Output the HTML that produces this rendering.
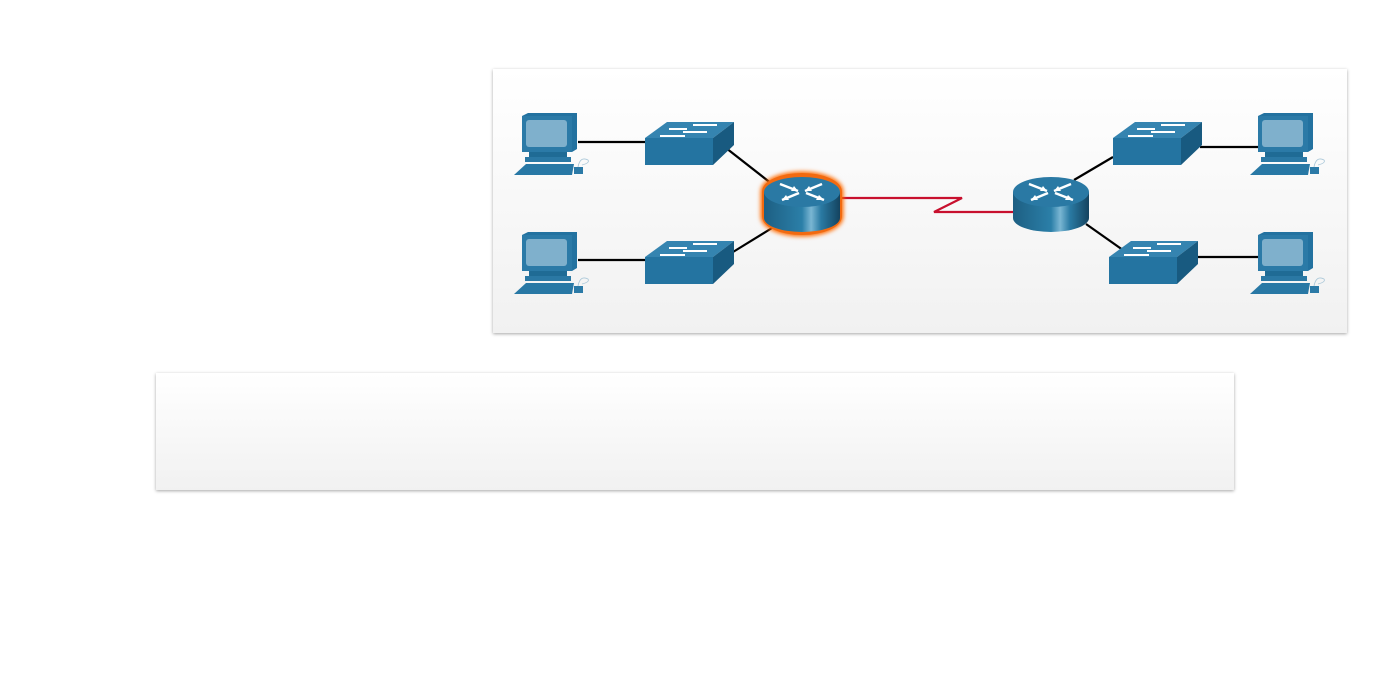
<!DOCTYPE html>
<html><head><meta charset="utf-8"><style>
html,body{margin:0;padding:0;background:#fff;width:1389px;height:681px;overflow:hidden}
</style></head><body>
<svg width="1389" height="681" xmlns="http://www.w3.org/2000/svg">
<defs>
<linearGradient id="pg" x1="0" y1="0" x2="0" y2="1"><stop offset="0" stop-color="#ffffff"/><stop offset="1" stop-color="#f1f1f1"/></linearGradient>
<linearGradient id="rb" x1="0" y1="0" x2="1" y2="0"><stop offset="0" stop-color="#1d5f83"/><stop offset="0.5" stop-color="#2b7fa8"/><stop offset="0.62" stop-color="#7ab6d3"/><stop offset="0.75" stop-color="#2a7aa3"/><stop offset="1" stop-color="#14435f"/></linearGradient>
<filter id="sh" x="-5%" y="-5%" width="110%" height="115%"><feDropShadow dx="0" dy="1" stdDeviation="1.5" flood-color="#000" flood-opacity="0.35"/></filter>
<filter id="gl" x="-30%" y="-30%" width="160%" height="160%"><feGaussianBlur stdDeviation="2"/></filter>
<g id="pc">
<path d="M0,3 L6,0 L55,0 L55,36 L50,39 L0,39Z" fill="#2372a0"/>
<rect x="0" y="3" width="50" height="36" fill="#2b7aa7"/>
<rect x="4" y="7" width="41" height="27" rx="3" fill="#7fb0cc"/>
<rect x="7" y="39" width="38" height="5" fill="#1f6b95"/>
<rect x="3" y="44" width="46" height="5" fill="#2a78a4"/>
<path d="M4,51 L52,51 L50,62 L-8,62Z" fill="#2878a5"/>
<rect x="52" y="54" width="9" height="7" fill="#2b7aa7"/>
<path d="M56,54 Q58,43 66,47 Q68,50 60,52" fill="none" stroke="#a9c7d8" stroke-width="0.8"/>
</g>
<g id="sw">
<path d="M0,16 L22,0 L89,0 L68,16Z" fill="#3584b0"/>
<path d="M68,16 L89,0 L89,23 L68,43Z" fill="#185a80"/>
<rect x="0" y="16" width="68" height="27" fill="#2474a1"/>
<g stroke="#fff" stroke-width="2" fill="#fff">
<path d="M48,3 L72,3"/><path d="M24,7 L42,7"/><path d="M38,10 L62,10"/><path d="M15,14 L40,14"/>
</g>
</g>
<g id="rt">
<path d="M-38,0 L-38,26 A38,14 0 0 0 38,26 L38,0Z" fill="url(#rb)"/>
<ellipse cx="0" cy="0" rx="38" ry="15" fill="#2a79a4"/>
<g stroke="#fff" stroke-width="2.5" fill="none">
<path d="M-22,-8 L-4,-1"/><path d="M4,1 L22,8"/><path d="M-20,8 L-3,1"/><path d="M3,-1 L20,-8"/>
</g>
<g fill="#fff">
<path d="M-4,-1 L-11,-1 L-8,-6Z"/><path d="M22,8 L14,8 L17,3Z"/><path d="M-20,8 L-13,8 L-16,3Z"/><path d="M3,-1 L10,-1 L7,-6Z"/>
</g>
</g>
</defs>
<rect x="493" y="69" width="854" height="264" fill="url(#pg)" filter="url(#sh)"/>
<rect x="156" y="373" width="1078" height="117" fill="url(#pg)" filter="url(#sh)"/>
<g stroke="#000" stroke-width="2.2">
<line x1="578" y1="142" x2="645" y2="142"/><line x1="578" y1="260" x2="645" y2="260"/>
<line x1="726" y1="148" x2="772" y2="184"/><line x1="733" y1="252" x2="772" y2="228"/>
<line x1="1200" y1="147" x2="1260" y2="147"/><line x1="1196" y1="257" x2="1260" y2="257"/>
<line x1="1113" y1="157" x2="1074" y2="180"/><line x1="1086" y1="224" x2="1130" y2="255"/>
</g>
<path d="M842,198 L962,198 L934,212 L1014,212" fill="none" stroke="#c8102e" stroke-width="2.2"/>
<use href="#pc" x="522" y="113"/><use href="#pc" x="522" y="232"/>
<use href="#pc" x="1258" y="113"/><use href="#pc" x="1258" y="232"/>
<use href="#sw" x="645" y="122"/><use href="#sw" x="645" y="241"/>
<use href="#sw" x="1113" y="122"/><use href="#sw" x="1109" y="241"/>
<g filter="url(#gl)"><path d="M764,192 A38,17 0 0 1 840,192 L840,216 A38,17 0 0 1 764,216Z" fill="#ff6a00" stroke="#ff6a00" stroke-width="7"/></g>
<path d="M764,192 A38,17 0 0 1 840,192 L840,216 A38,17 0 0 1 764,216Z" fill="none" stroke="#f26a10" stroke-width="4"/>
<use href="#rt" x="802" y="192"/>
<use href="#rt" x="1051" y="192"/>
</svg>
</body></html>
